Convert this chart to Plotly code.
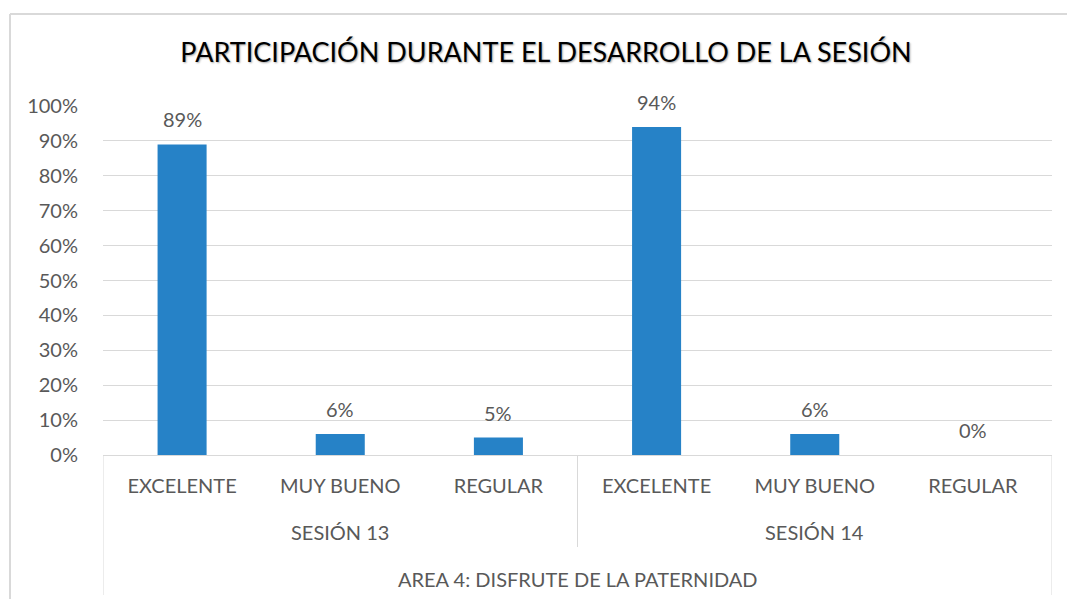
import plotly.graph_objects as go

sessions = ["SESIÓN 13", "SESIÓN 13", "SESIÓN 13", "SESIÓN 14", "SESIÓN 14", "SESIÓN 14"]
ratings = ["EXCELENTE", "MUY BUENO", "REGULAR", "EXCELENTE", "MUY BUENO", "REGULAR"]
values = [0.89, 0.06, 0.05, 0.94, 0.06, 0.00]
labels = ["89%", "6%", "5%", "94%", "6%", "0%"]
area_label = "AREA 4: DISFRUTE DE LA PATERNIDAD"
title_text = "PARTICIPACIÓN DURANTE EL DESARROLLO DE LA SESIÓN"

FONT = "Lato"
GRAY = "#595959"
LINE = "#D9D9D9"

idx = list(range(len(ratings)))

W, H = 1067, 599
L, R, T, B = 103, 15, 106, 144
PW, PH = W - L - R, H - T - B


def py(pix):
    """paper y coordinate for an absolute pixel row"""
    return (H - B - pix) / PH


def px(pix):
    return (pix - L) / PW


fig = go.Figure()
fig.add_trace(go.Bar(
    x=idx,
    y=values,
    marker=dict(color="#2682C7", line=dict(width=0)),
    hoverinfo="skip",
))

# data labels above bars
for i, v, t in zip(idx, values, labels):
    fig.add_annotation(x=i, y=v, xref="x", yref="y", text=t, showarrow=False,
                       yanchor="middle", yshift=25,
                       font=dict(family=FONT, size=20, color=GRAY))

fig.update_layout(
    width=W, height=H,
    margin=dict(l=L, r=R, t=T, b=B, autoexpand=False),
    paper_bgcolor="white", plot_bgcolor="white",
    bargap=0.69,
    showlegend=False,
    hovermode=False,
    title=dict(
        text=title_text,
        x=546 / W, xanchor="center", xref="container",
        y=1 - 53 / H, yanchor="middle", yref="container",
        font=dict(family=FONT, size=27, color="black",
                  shadow="1px 1px 2px rgba(0,0,0,0.35)"),
    ),
    yaxis=dict(
        range=[0, 1], dtick=0.1, tickformat=".0%",
        showgrid=True, gridcolor=LINE, gridwidth=1,
        zeroline=False, showline=False,
        ticks="outside", ticklen=20, tickcolor="rgba(0,0,0,0)",
        tickfont=dict(family=FONT, size=20, color=GRAY),
    ),
    xaxis=dict(
        range=[-0.5, len(idx) - 0.5],
        tickmode="array", tickvals=idx, ticktext=ratings,
        showline=True, linecolor=LINE, linewidth=1,
        showgrid=False, zeroline=False,
        ticks="outside", ticklen=13, tickcolor="rgba(0,0,0,0)",
        tickfont=dict(family=FONT, size=20, color=GRAY),
    ),
)

# session (second level) labels and dividers
groups = []
for i, s in zip(idx, sessions):
    if not groups or groups[-1][0] != s:
        groups.append([s, i, i])
    else:
        groups[-1][2] = i
for s, a, b in groups:
    fig.add_annotation(x=(a + b) / 2, xref="x", y=py(532), yref="paper",
                       text=s, showarrow=False, yanchor="middle",
                       font=dict(family=FONT, size=20, color=GRAY))
for s, a, b in groups[:-1]:
    fig.add_shape(type="line", xref="x", yref="paper",
                  x0=b + 0.5, x1=b + 0.5, y0=0, y1=py(547),
                  line=dict(color=LINE, width=1))

# third-level frame
for xv in (-0.5, len(idx) - 0.5):
    fig.add_shape(type="line", xref="x", yref="paper",
                  x0=xv, x1=xv, y0=0, y1=py(595),
                  line=dict(color=LINE, width=1))
fig.add_annotation(text=area_label, xref="paper", yref="paper",
                   x=0.5, y=py(579), yanchor="middle", showarrow=False,
                   font=dict(family=FONT, size=20, color=GRAY))

# outer chart border (top and left visible)
fig.add_shape(type="line", xref="paper", yref="paper",
              x0=px(10), x1=px(W + 5), y0=py(14), y1=py(14),
              line=dict(color=LINE, width=2))
fig.add_shape(type="line", xref="paper", yref="paper",
              x0=px(10), x1=px(10), y0=py(14), y1=py(H + 5),
              line=dict(color=LINE, width=2))

fig.write_html("out.html", config={"displayModeBar": False},
               post_script="document.body.style.margin='0';")
